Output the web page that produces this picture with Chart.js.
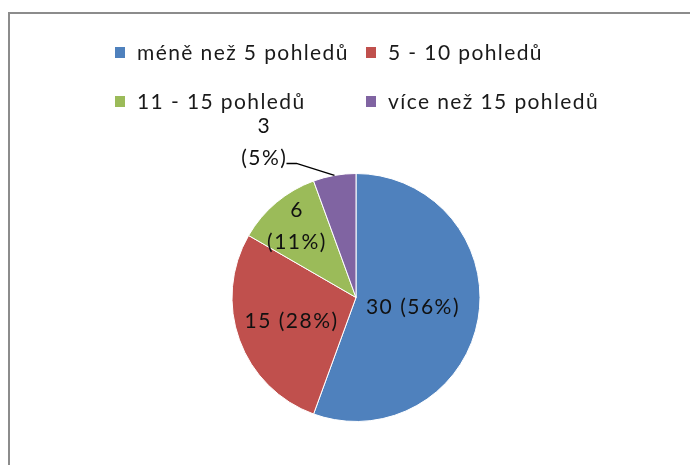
<!DOCTYPE html>
<html lang="cs">
<head>
<meta charset="utf-8">
<title>Počet pohledů</title>
<script src="https://cdn.jsdelivr.net/npm/chart.js@4.4.1/dist/chart.umd.min.js"></script>
<style>
    html, body { margin: 0; padding: 0; background: #fff; }
    body { width: 690px; height: 465px; position: relative; overflow: hidden; font-family: Lato, "Liberation Sans", sans-serif; }
    .frame { position: absolute; left: 8px; top: 12px; width: 800px; height: 600px; border-top: 2px solid #8c8c8c; border-left: 2px solid #8c8c8c; }
    .chart-wrap { position: absolute; left: 0; top: 0; width: 690px; height: 465px; }
    #legend { position: absolute; left: 115px; top: 40px; display: grid; grid-template-columns: 251px auto; grid-auto-rows: 49px; }
    .lg-item { display: flex; align-items: flex-start; height: 24px; font-size: 21px; line-height: 24px; letter-spacing: 1.4px; color: #1a1a1a; white-space: nowrap; }
    .lg-box { width: 10px; height: 11px; margin: 7px 12px 0 0; flex: none; }
</style>
</head>
<body>
<div class="frame"></div>
<div class="chart-wrap"><canvas id="pieChart" width="690" height="465"></canvas></div>
<div id="legend"></div>
<script>
// Koláč: počet pohledů, absolutně a v procentech

const CATEGORIES = ['méně než 5 pohledů', '5 - 10 pohledů', '11 - 15 pohledů', 'více než 15 pohledů'];
const VALUES = [30, 15, 6, 3];
const PERCENTS = [56, 28, 11, 5];
const COLORS = ['#4F81BD', '#C0504D', '#9BBB59', '#8064A2'];

// vzdálenost popisku od středu (podíl poloměru), null = popisek venku s vodicí čarou
const LABEL_POS = [0.46, 0.56, 0.75, null];
const LINE_GAP = 32;

function labelLines(i) {
    const txt = [String(VALUES[i]), `(${PERCENTS[i]}%)`];
    return PERCENTS[i] < 15 ? txt : [txt.join(' ')];
}

const htmlLegend = {
    id: 'htmlLegend',
    afterUpdate(chart) {
        const box = document.getElementById('legend');
        const items = chart.options.plugins.legend.labels.generateLabels(chart);
        box.innerHTML = items.map(it => `
            <div class="lg-item">
                <span class="lg-box" style="background:${it.fillStyle}"></span>
                <span>${it.text}</span>
            </div>`).join('');
    }
};

const sliceLabels = {
    id: 'sliceLabels',
    afterDatasetsDraw(chart) {
        const ctx = chart.ctx;
        const arcs = chart.getDatasetMeta(0).data;
        ctx.save();
        ctx.font = '21px Lato, "Liberation Sans", sans-serif';
        ctx.letterSpacing = '1.5px';
        ctx.fillStyle = '#111';
        ctx.textAlign = 'center';
        ctx.textBaseline = 'middle';
        arcs.forEach((arc, i) => {
            const { x, y, startAngle, endAngle, outerRadius } = arc.getProps(['x', 'y', 'startAngle', 'endAngle', 'outerRadius'], true);
            const mid = (startAngle + endAngle) / 2;
            const lines = labelLines(i);
            if (LABEL_POS[i] != null) {
                const r = outerRadius * LABEL_POS[i];
                const cx = x + Math.cos(mid) * r;
                const cy = y + Math.sin(mid) * r;
                const top = cy - (lines.length - 1) * LINE_GAP / 2;
                lines.forEach((t, k) => ctx.fillText(t, cx + 0.8, top + k * LINE_GAP));
            } else {
                // vodicí čára od okraje výseče
                const px = x + Math.cos(mid) * outerRadius;
                const py = y + Math.sin(mid) * outerRadius;
                const ex = px - 38, ey = py - 12;
                ctx.strokeStyle = '#000';
                ctx.lineWidth = 1.5;
                ctx.beginPath();
                ctx.moveTo(px, py);
                ctx.lineTo(ex, ey);
                ctx.lineTo(ex - 10, ey);
                ctx.stroke();
                const tx = ex - 33;
                const bottom = ey - 5;
                lines.forEach((t, k) => ctx.fillText(t, tx + 0.8, bottom - (lines.length - 1 - k) * LINE_GAP));
            }
        });
        ctx.restore();
    }
};

new Chart(document.getElementById('pieChart'), {
    type: 'pie',
    data: {
        labels: CATEGORIES,
        datasets: [{
            data: VALUES,
            backgroundColor: COLORS,
            borderColor: '#ffffff',
            borderWidth: 1,
            radius: 124
        }]
    },
    options: {
        responsive: false,
        animation: false,
        layout: { padding: { left: 120, right: 98, top: 160, bottom: 30 } },
        plugins: {
            legend: { display: false },
            tooltip: { enabled: false }
        }
    },
    plugins: [htmlLegend, sliceLabels]
});
</script>
</body>
</html>
